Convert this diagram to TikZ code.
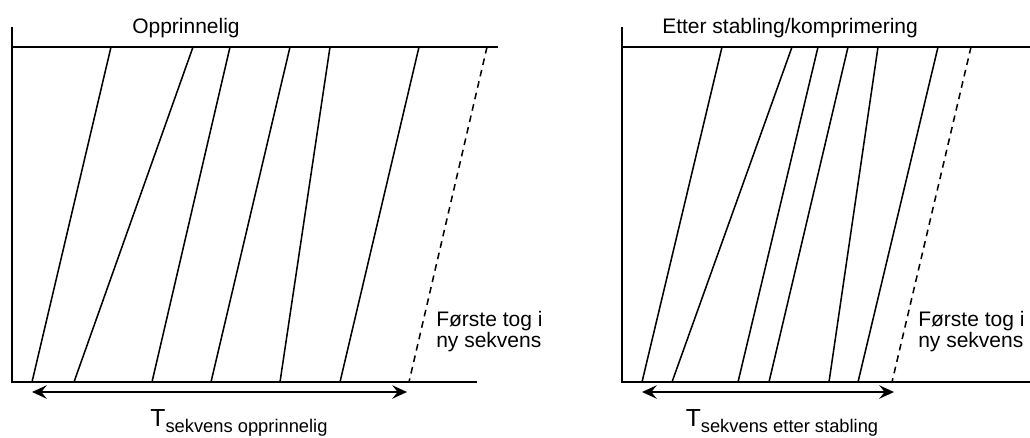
\documentclass[tikz,border=0pt]{standalone}
\usepackage{fontspec}
\setmainfont{Liberation Sans}
\usetikzlibrary{arrows.meta,positioning}
\tikzset{
  >={Stealth[length=11pt,width=10pt,inset=4pt]},
  akse/.style={line width=1.4pt},
  tog/.style={line width=1.15pt},
  nytog/.style={tog, dash pattern=on 5pt off 3.8pt},
  tid/.style={<->, line width=1.6pt},
  tittel/.style={anchor=base west, inner sep=0pt, font=\fontsize{15.75}{18}\selectfont},
  merke/.style={anchor=north west, align=left, inner sep=0pt, font=\fontsize{15.75}{14.5}\selectfont},
  tidtekst/.style={anchor=base, inner sep=0pt},
}
\newcommand{\tsekv}[1]{{\fontsize{18.5}{18}\selectfont T}\raisebox{-4.5pt}{\fontsize{13.75}{14}\selectfont #1}}

\begin{document}
\begin{tikzpicture}[x=0.75pt,y=-0.75pt]
  \useasboundingbox (0,0) rectangle (1030,437);
  % opprinnelig
  \draw[akse] (12,27) -- (12,382) -- (477,382);
  \draw[akse] (12,47) -- (498,47);
  \foreach \ov/\ne in {111/32, 193/74, 230/152, 290/211, 330/280, 419/340}
    \draw[tog] (\ov,47) -- (\ne,382);
  \draw[nytog] (487,47) -- (409,382);
  \node[tittel] (tit1) at (132,33) {Opprinnelig};
  \node[merke] (ny1) at (436,311) {Første tog i\\ny sekvens};
  \coordinate (fra1) at (32,392);
  \coordinate (til1) at (407,392);
  \draw[tid] (fra1) -- (til1);
  \node[tidtekst] (T1) at (239,426) {\tsekv{sekvens opprinnelig}};
  % etter stabling
  \begin{scope}[xshift=457.5pt]
    \draw[akse] (12,27) -- (12,382) -- (420,382);
    \draw[akse] (12,47) -- (420,47);
    \foreach \ov/\ne in {112/32, 182/62, 208/128, 238/159, 268/219, 328/248}
      \draw[tog] (\ov,47) -- (\ne,382);
    \draw[nytog] (361,47) -- (282,382);
    \node[tittel] (tit2) at (52,33) {Etter stabling/komprimering};
    \node[merke] (ny2) at (308,311) {Første tog i\\ny sekvens};
    \coordinate (fra2) at (32,392);
    \coordinate (til2) at (284,392);
    \draw[tid] (fra2) -- (til2);
    \node[tidtekst] (T2) at (172,426) {\tsekv{sekvens etter stabling}};
  \end{scope}
\end{tikzpicture}
\end{document}
